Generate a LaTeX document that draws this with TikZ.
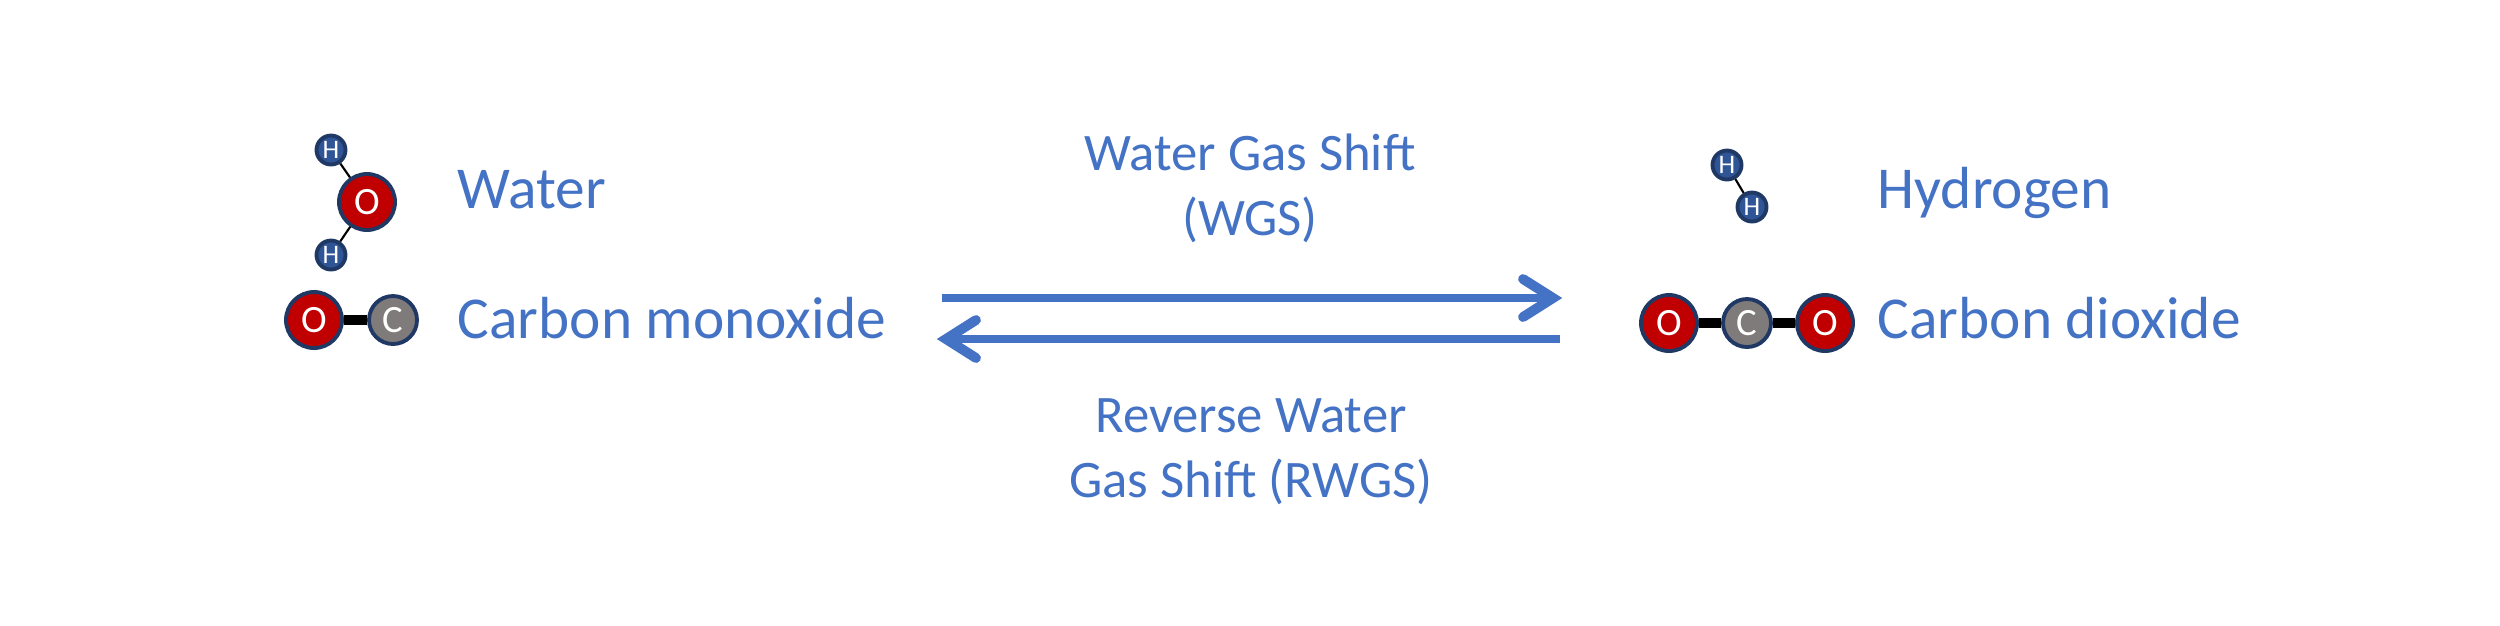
\documentclass[tikz,border=0pt]{standalone}
\usepackage{fontspec}
\setmainfont{Carlito}
\definecolor{labelblue}{HTML}{4472C4}
\definecolor{oxyred}{HTML}{C00000}
\definecolor{carbgray}{HTML}{7F7B7B}
\definecolor{hydblue}{HTML}{2F5597}
\definecolor{rimblue}{HTML}{1F3864}
\tikzset{
    atom/.style={draw=rimblue, line width=1.1pt, circle, inner sep=0pt, text=white, align=center},
    oxygen/.style={atom, fill=oxyred, minimum size=0.56cm, font=\fontsize{11}{11}\selectfont},
    carbon/.style={atom, fill=carbgray, minimum size=0.48cm, font=\fontsize{11}{11}\selectfont},
    hydrogen/.style={atom, fill=hydblue, minimum size=0.29cm, font=\fontsize{7.6}{7.6}\selectfont},
    label/.style={text=labelblue, font=\fontsize{16.9}{19}\selectfont, anchor=base west, inner sep=0pt},
    caption/.style={text=labelblue, font=\fontsize{15}{18.5}\selectfont, align=center, inner sep=0pt},
    single/.style={black, line width=0.6pt},
    double/.style={black, line width=2.6pt},
    flow/.style={labelblue, line width=2.3pt},
    head/.style={labelblue, line width=2.8pt, line cap=round, line join=miter}
}
\begin{document}
\begin{tikzpicture}[x=1cm,y=-1cm]
    \useasboundingbox (0,0) rectangle (25,6.25);

    % water
    \node (water_o) [oxygen] at (3.67,2.02) {O};
    \node (water_h1) [hydrogen] at (3.31,1.50) {H};
    \node (water_h2) [hydrogen] at (3.31,2.55) {H};
    \draw[single] (water_h1) -- (water_o);
    \draw[single] (water_h2) -- (water_o);
    \node (water) [label] at (4.57,2.08) {Water};

    % carbon monoxide
    \node (co_o) [oxygen] at (3.14,3.20) {O};
    \node (co_c) [carbon] at (3.93,3.20) {C};
    \draw[double] (co_o) -- (co_c);
    \node (co) [label] at (4.57,3.385) {Carbon monoxide};

    % hydrogen
    \node (h2_a) [hydrogen] at (17.27,1.65) {H};
    \node (h2_b) [hydrogen] at (17.52,2.07) {H};
    \draw[single] (h2_a) -- (h2_b);
    \node (hydrogen) [label] at (18.77,2.08) {Hydrogen};

    % carbon dioxide
    \node (co2_o1) [oxygen] at (16.69,3.23) {O};
    \node (co2_c) [carbon] at (17.47,3.23) {C};
    \node (co2_o2) [oxygen] at (18.25,3.23) {O};
    \draw[double] (co2_o1) -- (co2_c);
    \draw[double] (co2_c) -- (co2_o2);
    \node (co2) [label] at (18.77,3.385) {Carbon dioxide};

    % arrows
    \coordinate (wgs_start) at (9.42,2.98);
    \coordinate (wgs_end) at (15.53,2.98);
    \coordinate (rwgs_start) at (15.60,3.39);
    \coordinate (rwgs_end) at (9.46,3.39);
    \draw[flow] (wgs_start) -- (wgs_end);
    \draw[flow] (rwgs_start) -- (rwgs_end);
    \draw[head] (15.23,2.79) -- (wgs_end) -- (15.23,3.17);
    \draw[head] (9.76,3.20) -- (rwgs_end) -- (9.76,3.58);

    \node (wgs) [caption] at (12.5,1.885) {Water Gas Shift\\(WGS)};
    \node (rwgs) [caption] at (12.51,4.52) {Reverse Water\\Gas Shift (RWGS)};
\end{tikzpicture}
\end{document}
